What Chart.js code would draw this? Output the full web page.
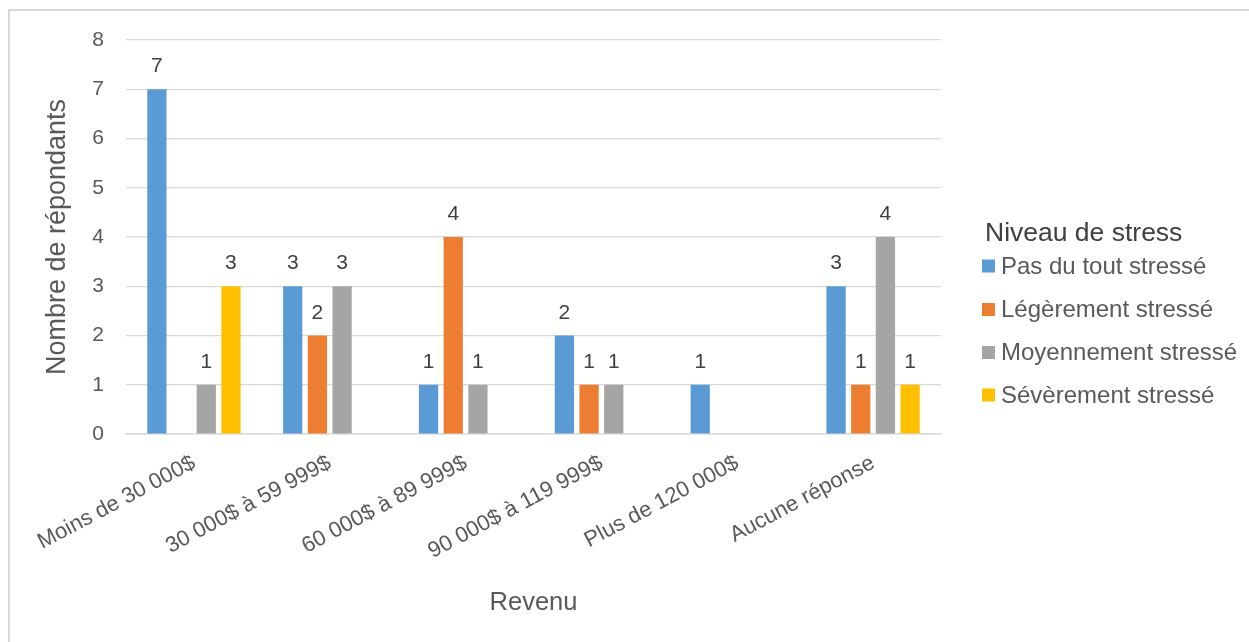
<!DOCTYPE html>
<html><head><meta charset="utf-8">
<script src="https://cdn.jsdelivr.net/npm/chart.js@4.4.1/dist/chart.umd.min.js"></script>
<style>
html,body{margin:0;padding:0;background:#fff;overflow:hidden;width:1249px;height:642px}
#frame{position:absolute;left:8px;top:9px;width:1400px;height:800px;border-top:2px solid #d9d9d9;border-left:2px solid #d9d9d9}
#c{position:absolute;left:0;top:0}
</style></head><body>
<div id="frame"></div>
<canvas id="c" width="1249" height="642"></canvas>
<script>
const categories = ["Moins de 30 000$", "30 000$ à 59 999$", "60 000$ à 89 999$", "90 000$ à 119 999$", "Plus de 120 000$", "Aucune réponse"];
const seriesNames = ["Pas du tout stressé", "Légèrement stressé", "Moyennement stressé", "Sévèrement stressé"];
const pasDuTout = [7, 3, 1, 2, 1, 3];
const legerement = [0, 2, 4, 1, 0, 1];
const moyennement = [1, 3, 1, 1, 0, 4];
const severement = [3, 0, 0, 0, 0, 1];
const seriesColors = ["#5B9BD5", "#ED7D31", "#A5A5A5", "#FFC000"];
const yMin = 0, yMax = 8, yStep = 1;
const legendTitle = "Niveau de stress";
const xTitle = "Revenu";
const yTitle = "Nombre de répondants";

const FONT = '"Liberation Sans", Arial, sans-serif';
const seriesValues = [pasDuTout, legerement, moyennement, severement];

const valueLabels = {
  id: 'valueLabels',
  afterDatasetsDraw(chart) {
    const ctx = chart.ctx;
    ctx.save();
    ctx.font = '21px ' + FONT;
    ctx.fillStyle = '#404040';
    ctx.textAlign = 'center';
    ctx.textBaseline = 'alphabetic';
    chart.data.datasets.forEach((ds, i) => {
      chart.getDatasetMeta(i).data.forEach((bar, j) => {
        const v = ds.data[j];
        if (!v) return;
        ctx.fillText(String(v), bar.x, bar.y - 17);
      });
    });
    ctx.restore();
  }
};

const sideLegend = {
  id: 'sideLegend',
  afterDraw(chart) {
    const ctx = chart.ctx;
    ctx.save();
    ctx.fillStyle = '#404040';
    ctx.font = '26.5px ' + FONT;
    ctx.textAlign = 'left';
    ctx.textBaseline = 'alphabetic';
    ctx.fillText(legendTitle, 985, 241);
    ctx.font = '24px ' + FONT;
    ctx.textBaseline = 'middle';
    const centers = [266, 309.5, 352.5, 395];
    chart.data.datasets.forEach((ds, i) => {
      const cy = centers[i];
      ctx.fillStyle = ds.backgroundColor;
      ctx.fillRect(982, cy - 6.5, 13, 13);
      ctx.fillStyle = '#595959';
      ctx.fillText(ds.label, 1001, cy + 1);
    });
    ctx.restore();
  }
};

new Chart(document.getElementById('c'), {
  type: 'bar',
  data: {
    labels: categories,
    datasets: seriesNames.map((name, i) => ({
      label: name,
      data: seriesValues[i],
      backgroundColor: seriesColors[i],
      borderWidth: 0,
      categoryPercentage: 0.727,
      barPercentage: 0.78
    }))
  },
  options: {
    responsive: false,
    animation: false,
    devicePixelRatio: 1,
    layout: { padding: { left: 0, top: 40, right: 308, bottom: 0 } },
    plugins: { legend: { display: false }, tooltip: { enabled: false } },
    scales: {
      x: {
        grid: { display: false, drawTicks: false },
        border: { display: true, color: '#D9D9D9', width: 1.5 },
        ticks: {
          autoSkip: false, minRotation: 28, maxRotation: 28,
          color: '#595959', font: { family: FONT, size: 22 }, padding: 16
        },
        title: {
          display: true, text: xTitle, color: '#595959',
          font: { family: FONT, size: 25.5 }, padding: { top: 0, bottom: 23.7 }
        },
        afterFit(scale) { scale.height = 208; }
      },
      y: {
        min: yMin, max: yMax,
        grid: { color: '#D9D9D9', lineWidth: 1.2, drawTicks: false },
        border: { display: false },
        ticks: {
          stepSize: yStep, color: '#595959',
          font: { family: FONT, size: 21 }, padding: 22
        },
        title: {
          display: true, text: yTitle, color: '#595959',
          font: { family: FONT, size: 27 }, padding: { top: 41, bottom: 0 }
        },
        afterFit(scale) { scale.width = 126; }
      }
    }
  },
  plugins: [valueLabels, sideLegend]
});
</script>
</body></html>
